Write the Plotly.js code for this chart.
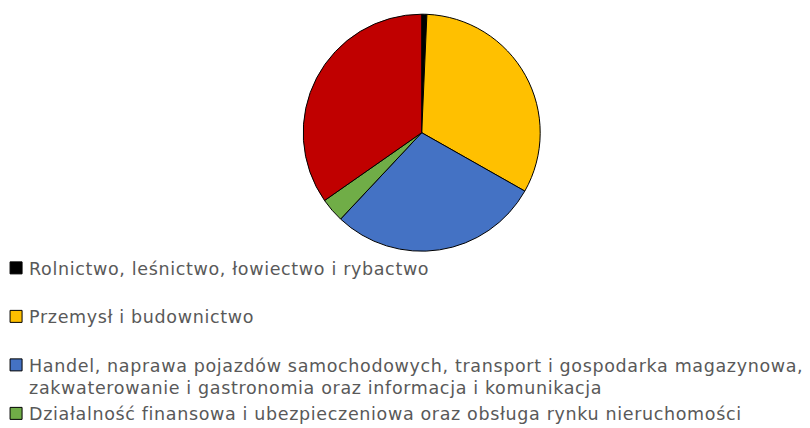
<!DOCTYPE html>
<html>
<head>
<meta charset="utf-8">
<script src="https://cdn.plot.ly/plotly-3.0.1.min.js"></script>
<style>
html,body{margin:0;padding:0;background:#fff;}
#chart{width:810px;height:428px;}
text.legendtext{letter-spacing:0.65px;}
#chart path.legendpie{transform:translate(27px,0px);}
</style>
</head>
<body>
<div id="chart"></div>
<script>
// last slice: its legend entry lies below the visible area in the reference, so its name is unknown
const labels = [
  "Rolnictwo, leśnictwo, łowiectwo i rybactwo<br> ",
  "Przemysł i budownictwo<br> ",
  "Handel, naprawa pojazdów samochodowych, transport i gospodarka magazynowa,<br>zakwaterowanie i gastronomia oraz informacja i komunikacja",
  "Działalność finansowa i ubezpieczeniowa oraz obsługa rynku nieruchomości<br> <br> ",
  " "
];
const values = [0.7, 32.5, 28.8, 3.3, 34.7];
const colors = ["#000000", "#FFC000", "#4472C4", "#70AD47", "#C00000"];

const W = 810, H = 428;
const cx = 421.7, cy = 132.7, r = 118.5;

Plotly.newPlot("chart", [{
  type: "pie",
  labels: labels,
  values: values,
  sort: false,
  direction: "clockwise",
  rotation: 0,
  textinfo: "none",
  marker: {colors: colors, line: {color: "#000000", width: 1}},
  domain: {x: [(cx - r) / W, (cx + r) / W], y: [1 - (cy + r) / H, 1 - (cy - r) / H]}
}], {
  width: W, height: H,
  margin: {l: 0, r: 0, t: 0, b: 0, autoexpand: false},
  paper_bgcolor: "#ffffff",
  font: {family: "DejaVu Sans, sans-serif", color: "#595959", size: 17.5},
  showlegend: true,
  legend: {
    x: -0.0135, xanchor: "left",
    y: 1 - 250 / H, yanchor: "top",
    orientation: "v",
    valign: "top",
    maxheight: 1000,
    font: {family: "DejaVu Sans, sans-serif", size: 17.5, color: "#595959"},
    bgcolor: "rgba(0,0,0,0)"
  }
}, {staticPlot: true});
</script>
</body>
</html>
